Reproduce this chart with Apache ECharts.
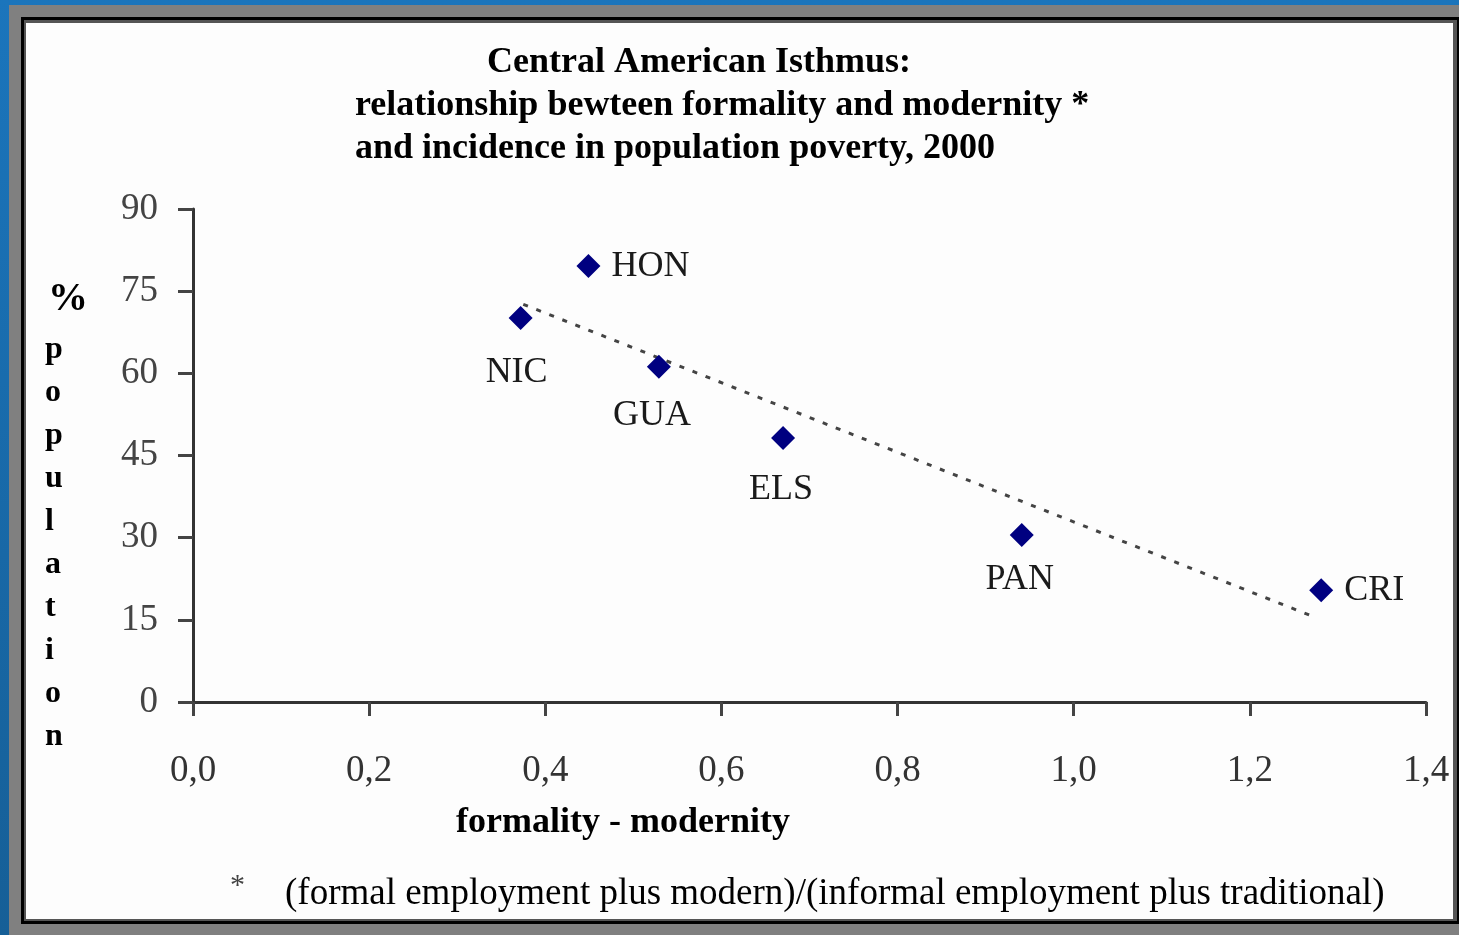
<!DOCTYPE html>
<html>
<head>
<meta charset="utf-8">
<script src="https://cdn.jsdelivr.net/npm/echarts@6/dist/echarts.min.js"></script>
<style>
  html, body { margin: 0; padding: 0; width: 1459px; height: 935px; overflow: hidden; }
  body { background: linear-gradient(#1b75bc, #165f97); position: relative; }
  #gray { position: absolute; left: 9px; top: 5px; width: 1450px; height: 930px; background: #808080; }
  #black { position: absolute; left: 21px; top: 17px; width: 1438px; height: 907px; background: #000; }
  #shade { position: absolute; left: 24px; top: 20px; width: 1433px; height: 901px; background: #555; }
  #white { position: absolute; left: 26px; top: 23px; width: 1427px; height: 896px; background: #fdfdfd; }
  #chart { position: absolute; left: 0; top: 0; width: 1459px; height: 935px; }
</style>
</head>
<body>
<div id="gray"></div>
<div id="black"></div>
<div id="shade"></div>
<div id="white"></div>
<div id="chart"></div>
<script>
// ---- data ----
const countries = ['NIC', 'HON', 'GUA', 'ELS', 'PAN', 'CRI'];
const formality = [0.372, 0.449, 0.529, 0.670, 0.941, 1.281];
const poverty = [70.1, 79.6, 61.2, 48.2, 30.5, 20.4];
// trend line end points
const trendX = [0.375, 1.275];
const trendY = [72.6, 15.4];
const xTickLabels = ['0,0', '0,2', '0,4', '0,6', '0,8', '1,0', '1,2', '1,4'];
const yTickLabels = ['0', '15', '30', '45', '60', '75', '90'];

// ---- label placement (style) ----
const labelStyle = {
  NIC: { position: 'bottom', distance: 25, offset: [-4, 0] },
  HON: { position: 'right', distance: 11, offset: [0, 1] },
  GUA: { position: 'bottom', distance: 19, offset: [-7, 0] },
  ELS: { position: 'bottom', distance: 22, offset: [-2, 0] },
  PAN: { position: 'bottom', distance: 15, offset: [-2, 0] },
  CRI: { position: 'right', distance: 11, offset: [0, 0] }
};

const serif = '"Liberation Serif", "DejaVu Serif", serif';

const scatterData = countries.map((c, i) => ({
  value: [formality[i], poverty[i]],
  name: c,
  label: Object.assign({ show: true, formatter: c }, labelStyle[c])
}));

const chart = echarts.init(document.getElementById('chart'), null, { renderer: 'canvas' });
chart.setOption({
  backgroundColor: 'transparent',
  animation: false,
  grid: { left: 193, right: 33, top: 209, bottom: 233, containLabel: false },
  xAxis: {
    type: 'value', min: 0, max: 1.4, interval: 0.2,
    axisLine: { show: true, lineStyle: { color: '#333', width: 3 } },
    axisTick: { show: true, length: 14, lineStyle: { color: '#444', width: 3 } },
    splitLine: { show: false },
    axisLabel: {
      margin: 51, color: '#333', fontFamily: serif, fontSize: 37,
      formatter: (v) => xTickLabels[Math.round(v / 0.2)]
    }
  },
  yAxis: {
    type: 'value', min: 0, max: 90, interval: 15,
    axisLine: { show: true, lineStyle: { color: '#333', width: 3 } },
    axisTick: { show: true, length: 15, lineStyle: { color: '#444', width: 3 } },
    splitLine: { show: false },
    axisLabel: {
      margin: 35, color: '#444', fontFamily: serif, fontSize: 37,
      formatter: (v) => yTickLabels[Math.round(v / 15)]
    }
  },
  series: [
    {
      type: 'line',
      data: trendX.map((x, i) => [x, trendY[i]]),
      symbol: 'none',
      lineStyle: { color: '#444', width: 3, type: [5, 9] },
      z: 1
    },
    {
      type: 'scatter',
      data: scatterData,
      symbol: 'diamond',
      symbolSize: [24, 24],
      itemStyle: { color: '#000080', opacity: 1 },
      label: { color: '#1a1a1a', fontFamily: serif, fontSize: 36 },
      z: 3
    }
  ],
  graphic: [
    { type: 'text', left: 487, top: 45, style: { text: 'Central American Isthmus:', font: 'bold 36px ' + serif, fill: '#000' } },
    { type: 'text', left: 355, top: 88, style: { text: 'relationship bewteen formality and modernity *', font: 'bold 36px ' + serif, fill: '#000' } },
    { type: 'text', left: 355, top: 131, style: { text: 'and incidence in population poverty, 2000', font: 'bold 36px ' + serif, fill: '#000' } },
    { type: 'text', left: 48, top: 280, style: { text: '%', font: 'bold 40px ' + serif, fill: '#000' } },
    { type: 'text', left: 45, top: 328, style: { text: 'p\no\np\nu\nl\na\nt\ni\no\nn', font: 'bold 32px ' + serif, fill: '#000', lineHeight: 43, align: 'left' } },
    { type: 'text', left: 456, top: 805, style: { text: 'formality - modernity', font: 'bold 36px ' + serif, fill: '#000' } },
    { type: 'text', left: 230, top: 871, style: { text: '*', font: '30px ' + serif, fill: '#444' } },
    { type: 'text', left: 285, top: 876, style: { text: '(formal employment plus modern)/(informal employment plus traditional)', font: '37px ' + serif, fill: '#000' } }
  ]
});
</script>
</body>
</html>
